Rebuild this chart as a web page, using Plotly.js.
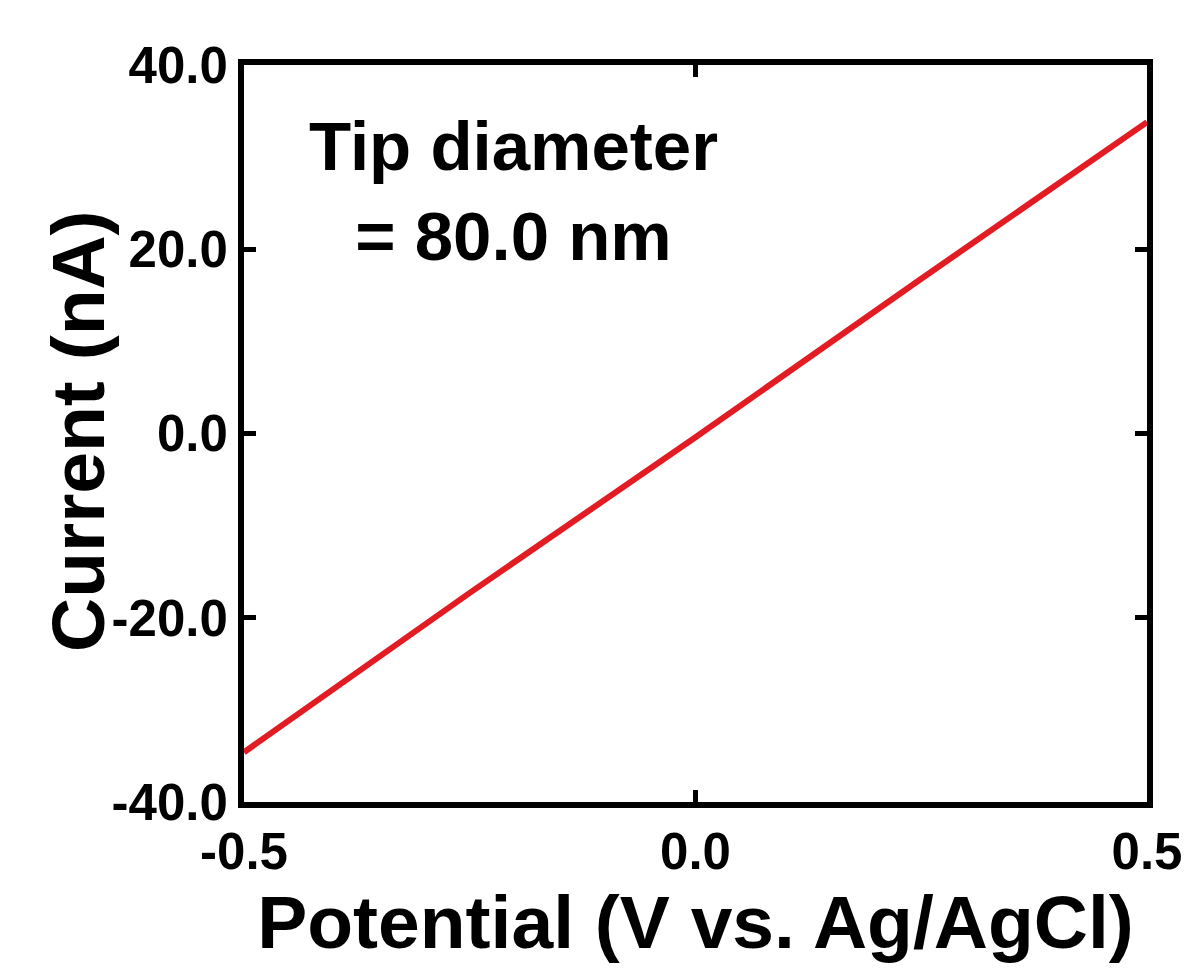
<!DOCTYPE html>
<html>
<head>
<meta charset="utf-8">
<script src="https://cdn.plot.ly/plotly-3.0.1.min.js"></script>
<style>html,body{margin:0;padding:0;background:#fff;}#chart{width:1190px;height:969px;}</style>
</head>
<body>
<div id="chart"></div>
<script>
const potential = [-0.5, -0.25, 0.0, 0.25, 0.5];
const current = [-34.6, -17.3, -0.4, 16.8, 33.8];
const xTickVals = [-0.5, 0.0, 0.5];
const xTickText = ["-0.5", "0.0", "0.5"];
const yTickVals = [-40, -20, 0, 20, 40];
const yTickText = ["-40.0", "-20.0", "0.0", "20.0", "40.0"];
const xTitle = "Potential (V vs. Ag/AgCl)";
const yTitle = "Current (nA)";
const annotationText = "Tip diameter<br>= 80.0 nm";

const FONT = "Liberation Sans, Arial, sans-serif";

const trace = {
  x: potential, y: current, type: "scatter", mode: "lines",
  line: {color: "#e31b23", width: 6}, hoverinfo: "skip"
};

const layout = {
  width: 1190, height: 969,
  margin: {l: 244, r: 43, t: 65, b: 167},
  paper_bgcolor: "#fff", plot_bgcolor: "#fff",
  showlegend: false,
  font: {family: FONT, color: "#000"},
  xaxis: {
    range: [-0.5, 0.5], tickvals: xTickVals, ticktext: xTickText,
    showgrid: false, zeroline: false,
    showline: true, linecolor: "#000", linewidth: 6, mirror: "ticks",
    ticks: "inside", ticklen: 12, tickwidth: 5, tickcolor: "#000",
    tickfont: {family: FONT, size: 51, color: "#000", weight: "bold"},
    title: {text: "<b>" + xTitle + "</b>", font: {family: FONT, size: 75, color: "#000"}, standoff: 12}
  },
  yaxis: {
    range: [-40, 40], tickvals: yTickVals, ticktext: yTickText,
    showgrid: false, zeroline: false,
    showline: true, linecolor: "#000", linewidth: 6, mirror: "ticks",
    ticks: "inside", ticklen: 12, tickwidth: 5, tickcolor: "#000",
    tickfont: {family: FONT, size: 51, color: "#000", weight: "bold"}
  },
  annotations: [{
    xref: "paper", yref: "paper", x: 0.298, y: 0.945,
    xanchor: "center", yanchor: "top", showarrow: false, align: "center",
    text: "<b>" + annotationText + "</b>",
    font: {family: FONT, size: 69, color: "#000"}
  }, {
    xref: "paper", yref: "paper", x: -0.1838, y: 0.5034,
    xanchor: "center", yanchor: "middle", showarrow: false, textangle: -90,
    text: "<b>" + yTitle + "</b>",
    font: {family: FONT, size: 75, color: "#000"}
  }]
};

Plotly.newPlot("chart", [trace], layout, {displayModeBar: false, staticPlot: true});
</script>
</body>
</html>
